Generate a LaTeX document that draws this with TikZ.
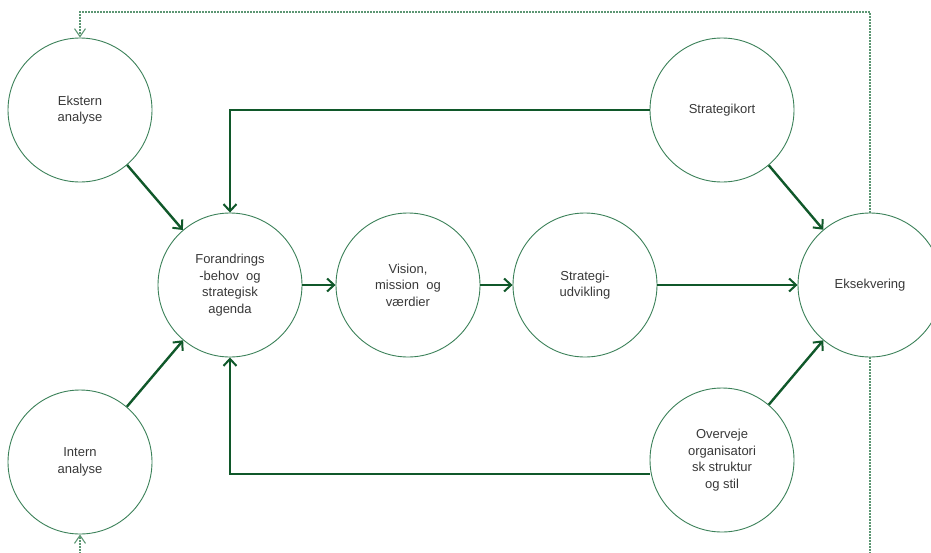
\documentclass[tikz,border=0pt]{standalone}
\usepackage{fontspec}
\setmainfont{Liberation Sans}
\usetikzlibrary{arrows.meta}

\definecolor{ringgreen}{RGB}{58,128,88}
\definecolor{flowgreen}{RGB}{16,88,42}
\definecolor{loopgreen}{RGB}{92,150,115}
\definecolor{labelgray}{RGB}{56,56,56}

\begin{document}
\begin{tikzpicture}[x=1pt,y=-1pt,
    phase/.style={circle,draw=ringgreen,line width=0.9pt,minimum size=144pt,
      inner sep=0pt,align=center,text=labelgray,
      font=\fontsize{13}{16.5}\selectfont},
    flow/.style={draw=flowgreen,line width=2.4pt,
      -{Straight Barb[length=7pt,width=13pt,line width=2pt]}},
    loop/.style={draw=loopgreen,line width=1.2pt,
      dash pattern=on 2pt off 1pt},
    looptip/.style={-{Straight Barb[length=8pt,width=11pt,line width=1.1pt]}}
  ]
  \useasboundingbox (0,0) rectangle (931,552);

  % the circles
  \node[phase] (ekstern)   at (80,110)  {Ekstern\\analyse};
  \node[phase] (intern)    at (80,462)  {Intern\\analyse};
  \node[phase] (forandr)   at (230,285) {Forandrings\\-behov\ \ og\\strategisk\\agenda};
  \node[phase] (vision)    at (408,285) {Vision,\\mission\ \ og\\v\ae rdier};
  \node[phase] (strategi)  at (585,285) {Strategi-\\udvikling};
  \node[phase] (kort)      at (722,110) {Strategikort};
  \node[phase] (eksek)     at (870,285) {Eksekvering};
  \node[phase] (overveje)  at (722,460) {Overveje\\organisatori\\sk struktur\\og stil};

  % main flow
  \draw[flow] (ekstern) -- (forandr);
  \draw[flow] (intern) -- (forandr);
  \draw[flow] (forandr) -- (vision);
  \draw[flow] (vision) -- (strategi);
  \draw[flow] (strategi) -- (eksek);
  \draw[flow] (kort) -- (eksek);
  \draw[flow] (overveje) -- (eksek);

  % feedback to the agenda
  \draw[flow] (kort.west) -| (forandr.north);
  \draw[flow] (overveje.west |- 0,474) -| (forandr.south);

  % dotted loop back to the analyses
  \coordinate (topright) at (870,12);
  \coordinate (bottomright) at (870,560);
  \coordinate (bottomleft) at (80,560);
  \draw[loop,looptip] (eksek.north) -- (topright) -| (ekstern.north);
  \draw[loop] (eksek.south) -- (bottomright);
  \draw[loop,looptip] (bottomleft) -- (intern.south);
\end{tikzpicture}
\end{document}
